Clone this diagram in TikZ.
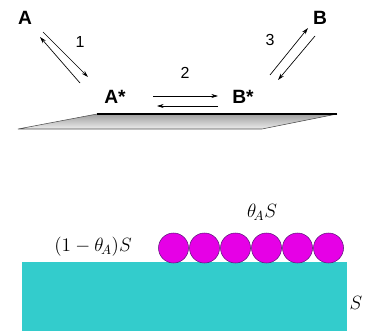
\documentclass[tikz,border=0pt]{standalone}
\usepackage{fontspec}
\setsansfont{Liberation Sans}
\usetikzlibrary{arrows.meta}
\definecolor{slab}{RGB}{51,204,204}
\definecolor{ads}{RGB}{230,0,230}
\definecolor{adsline}{RGB}{90,20,120}
\begin{document}
\begin{tikzpicture}[x=0.75pt,y=-0.75pt, every node/.style={font=\sffamily\large},
  sp/.style={font=\sffamily\bfseries\Large},
  rx/.style={-{Stealth[length=5pt,width=3pt]}, line width=.5pt},
  site/.style={circle, fill=ads, draw=adsline, minimum size=22.5pt, inner sep=0pt}]
  \useasboundingbox (0,0) rectangle (366,331);
  % species
  \node[sp] (A) at (25,18) {A};
  \node[sp] (B) at (320,18) {B};
  \node[sp] (As) at (115,97) {A*};
  \node[sp] (Bs) at (243,97) {B*};
  % surface
  \coordinate (P1) at (97,114); \coordinate (P2) at (337,114);
  \coordinate (P3) at (262,129); \coordinate (P4) at (18,129);
  \shade[top color=gray!75, bottom color=gray!15] (P1)--(P2)--(P3)--(P4)--cycle;
  \draw[gray!60!black, line width=.4pt] (P2)--(P3)--(P4)--(P1);
  \draw[black, line width=1.2pt] (P1)--(P2);
  % steps
  \draw[rx] ([shift={(18,14)}]A.center) -- ([shift={(-27,-20)}]As.center);
  \draw[rx] ([shift={(-35,-14)}]As.center) -- ([shift={(15,19)}]A.center);
  \draw[rx] ([shift={(38,-1)}]As.center) -- ([shift={(-25,-1)}]Bs.center);
  \draw[rx] ([shift={(-25,9)}]Bs.center) -- ([shift={(42,9)}]As.center);
  \draw[rx] ([shift={(27,-22)}]Bs.center) -- ([shift={(-12,10)}]B.center);
  \draw[rx] ([shift={(-5,18)}]B.center) -- ([shift={(35,-17)}]Bs.center);
  \foreach \n/\p in {1/{(80,42)},2/{(185,73)},3/{(270,40)}}
    \node (s\n) at \p {\n};
  % coverage
  \fill[slab] (22,262) rectangle (347,331);
  \foreach \i in {0,...,5}
    \node[site] (m\i) at (173.5+31*\i,248) {};
  \node[font=\Large] (free) at (93,247) {$(1-\theta_{\!A})S$};
  \node[font=\Large] (cov) at (262,212) {$\theta_{\!A}S$};
  \node[font=\Large] (tot) at (356,303) {$S$};
\end{tikzpicture}
\end{document}
